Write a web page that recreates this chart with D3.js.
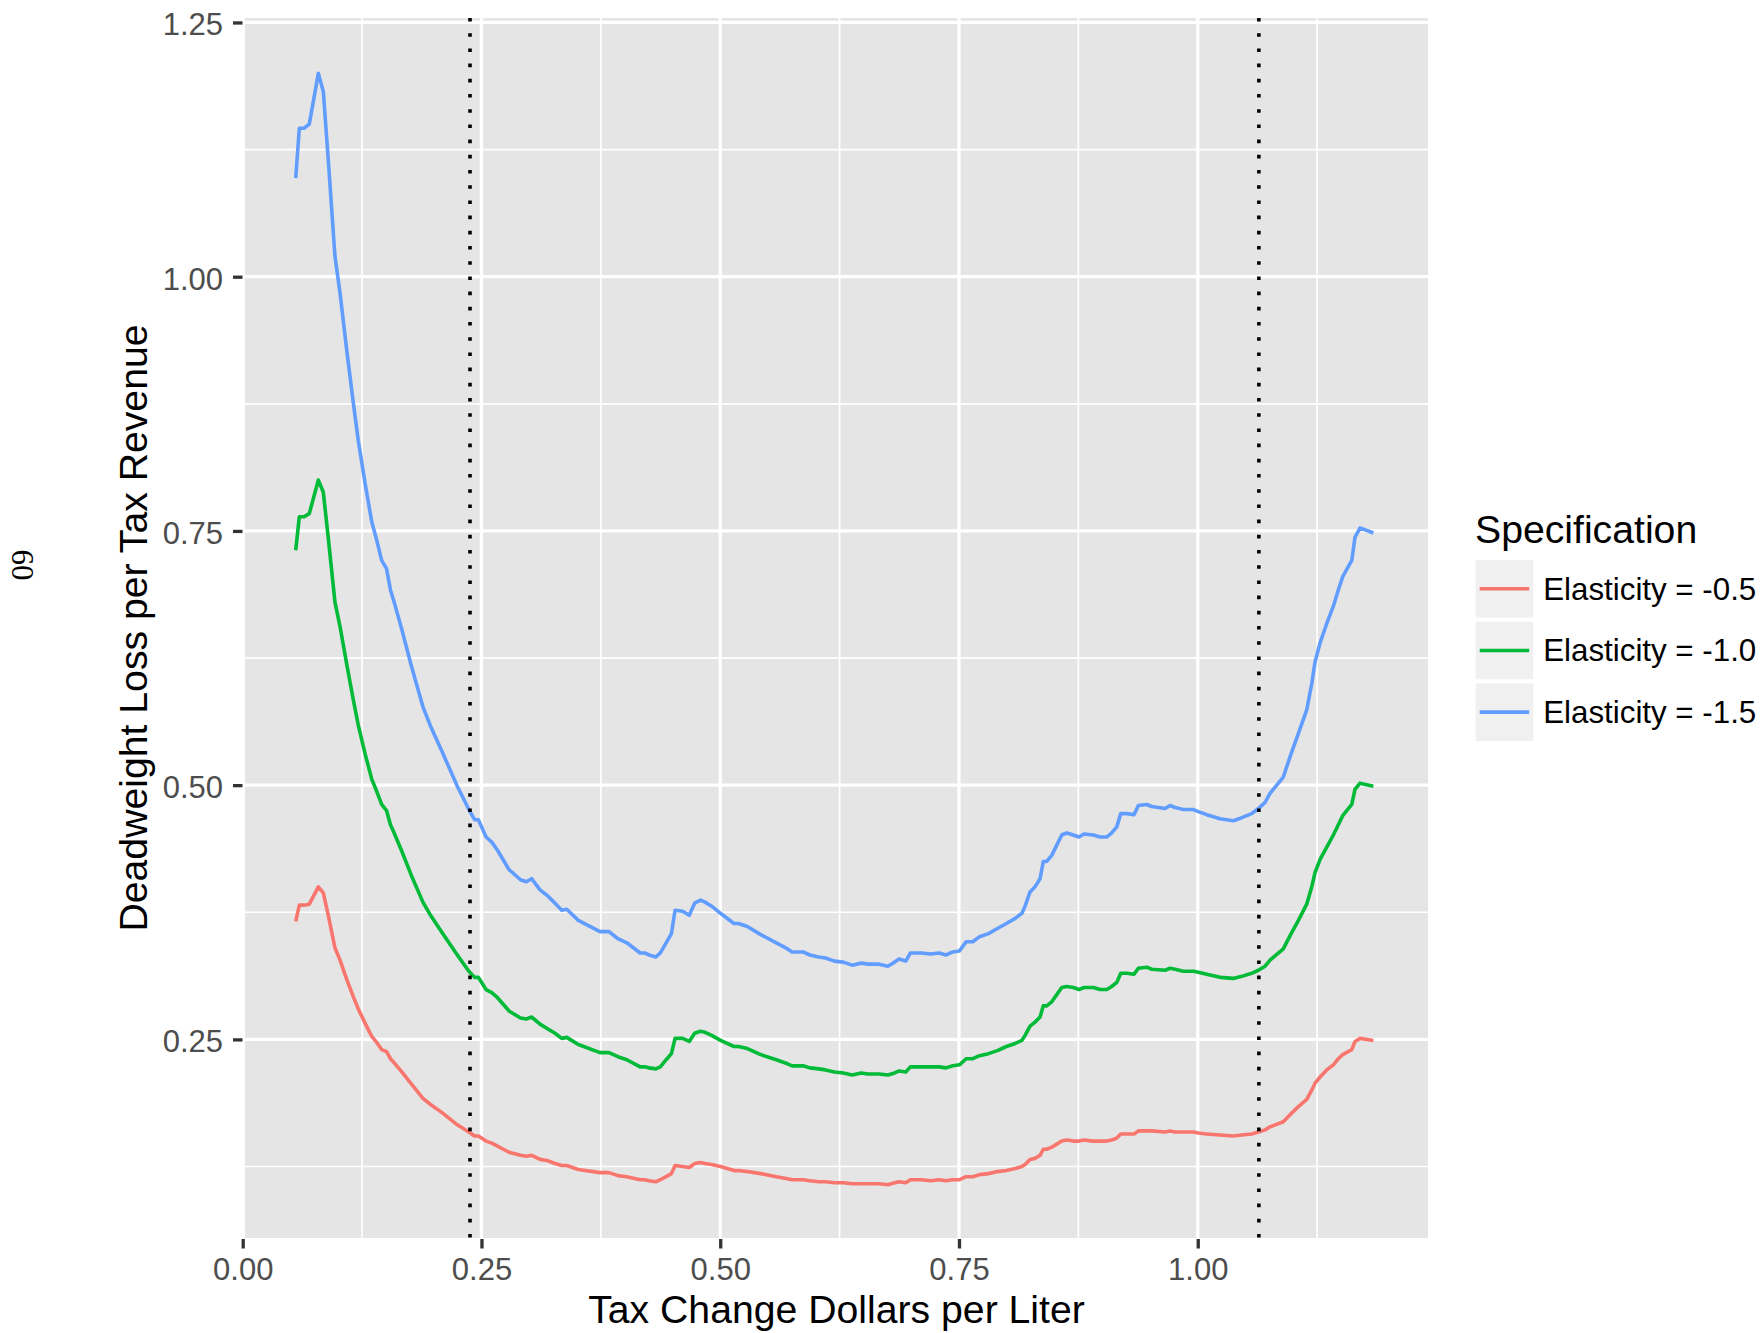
<!DOCTYPE html>
<html>
<head>
<meta charset="utf-8">
<script src="https://cdn.jsdelivr.net/npm/d3@7"></script>
<style>
  body { margin: 0; background: #ffffff; }
  svg { display: block; font-family: 'Liberation Sans', Arial, Helvetica, sans-serif; }
</style>
</head>
<body>
<svg id="chart" width="1762" height="1333"></svg>
<script>
// tax change (dollars per liter), shared by all three specifications
const taxChange = [
  0.0555, 0.0593, 0.0642, 0.0697, 0.0792, 0.0844, 0.0896, 0.0966, 0.1019, 0.1089,
  0.1158, 0.1210, 0.1281, 0.1351, 0.1403, 0.1455, 0.1506, 0.1547, 0.1586, 0.1666,
  0.1767, 0.1887, 0.1967, 0.2087, 0.2247, 0.2368, 0.2428, 0.2468, 0.2548, 0.2608,
  0.2668, 0.2788, 0.2909, 0.2969, 0.3026, 0.3113, 0.3183, 0.3270, 0.3340, 0.3393,
  0.3514, 0.3741, 0.3835, 0.3929, 0.4022, 0.4162, 0.4208, 0.4256, 0.4326, 0.4373,
  0.4434, 0.4489, 0.4527, 0.4606, 0.4676, 0.4732, 0.4793, 0.4841, 0.4910, 0.5003,
  0.5144, 0.5191, 0.5284, 0.5424, 0.5587, 0.5705, 0.5752, 0.5868, 0.5938, 0.6032,
  0.6102, 0.6196, 0.6289, 0.6382, 0.6476, 0.6547, 0.6663, 0.6756, 0.6826, 0.6873,
  0.6943, 0.6991, 0.7107, 0.7201, 0.7294, 0.7364, 0.7435, 0.7505, 0.7575, 0.7645,
  0.7715, 0.7808, 0.7902, 0.7996, 0.8089, 0.8159, 0.8192, 0.8244, 0.8296, 0.8349,
  0.8383, 0.8419, 0.8471, 0.8524, 0.8576, 0.8628, 0.8697, 0.8757, 0.8809, 0.8907,
  0.8977, 0.9047, 0.9099, 0.9152, 0.9194, 0.9257, 0.9333, 0.9378, 0.9466, 0.9518,
  0.9658, 0.9710, 0.9762, 0.9849, 0.9954, 1.0006, 1.0094, 1.0234, 1.0373, 1.0461,
  1.0565, 1.0635, 1.0705, 1.0757, 1.0896, 1.0967, 1.1054, 1.1141, 1.1194, 1.1228,
  1.1281, 1.1351, 1.1420, 1.1472, 1.1518, 1.1613, 1.1647, 1.1700, 1.1839
];

// deadweight loss per tax revenue, elasticity = -0.5
const dwlElasticity05 = [
  0.366, 0.382, 0.382, 0.383, 0.400, 0.394, 0.372, 0.340, 0.328, 0.309,
  0.292, 0.280, 0.266, 0.253, 0.247, 0.240, 0.238, 0.231, 0.227, 0.218,
  0.206, 0.192, 0.186, 0.178, 0.166, 0.159, 0.155, 0.155, 0.150, 0.148,
  0.145, 0.139, 0.136, 0.135, 0.136, 0.132, 0.131, 0.128, 0.126, 0.126,
  0.122, 0.119, 0.119, 0.116, 0.115, 0.112, 0.112, 0.111, 0.110, 0.112,
  0.115, 0.118, 0.126, 0.125, 0.124, 0.128, 0.129, 0.128, 0.127, 0.125,
  0.121, 0.121, 0.120, 0.118, 0.115, 0.113, 0.112, 0.112, 0.111, 0.110,
  0.110, 0.109, 0.109, 0.108, 0.108, 0.108, 0.108, 0.107, 0.109, 0.110,
  0.109, 0.112, 0.112, 0.111, 0.112, 0.111, 0.112, 0.112, 0.115, 0.115,
  0.117, 0.118, 0.120, 0.121, 0.123, 0.125, 0.127, 0.132, 0.133, 0.136,
  0.142, 0.142, 0.144, 0.147, 0.150, 0.151, 0.150, 0.150, 0.151, 0.150,
  0.150, 0.150, 0.151, 0.153, 0.157, 0.157, 0.157, 0.160, 0.160, 0.160,
  0.159, 0.160, 0.159, 0.159, 0.159, 0.158, 0.157, 0.156, 0.155, 0.156,
  0.157, 0.159, 0.161, 0.164, 0.169, 0.176, 0.184, 0.191, 0.200, 0.207,
  0.213, 0.220, 0.225, 0.231, 0.235, 0.240, 0.248, 0.251, 0.249
];

// elasticity = -1.0
const dwlElasticity10 = [
  0.731, 0.764, 0.764, 0.767, 0.800, 0.788, 0.743, 0.680, 0.656, 0.619,
  0.584, 0.559, 0.531, 0.506, 0.494, 0.481, 0.475, 0.461, 0.453, 0.435,
  0.411, 0.385, 0.372, 0.355, 0.333, 0.317, 0.311, 0.311, 0.299, 0.296,
  0.291, 0.278, 0.271, 0.270, 0.272, 0.265, 0.261, 0.256, 0.251, 0.252,
  0.245, 0.237, 0.237, 0.233, 0.230, 0.223, 0.223, 0.222, 0.221, 0.223,
  0.230, 0.236, 0.251, 0.251, 0.248, 0.256, 0.258, 0.257, 0.254, 0.249,
  0.243, 0.243, 0.241, 0.235, 0.230, 0.226, 0.224, 0.224, 0.222, 0.221,
  0.220, 0.218, 0.217, 0.215, 0.217, 0.216, 0.216, 0.215, 0.217, 0.219,
  0.218, 0.223, 0.223, 0.223, 0.223, 0.222, 0.224, 0.225, 0.231, 0.231,
  0.234, 0.236, 0.239, 0.243, 0.246, 0.249, 0.254, 0.263, 0.267, 0.272,
  0.283, 0.283, 0.287, 0.294, 0.301, 0.302, 0.301, 0.299, 0.301, 0.301,
  0.299, 0.299, 0.302, 0.306, 0.315, 0.315, 0.314, 0.320, 0.321, 0.319,
  0.318, 0.320, 0.319, 0.317, 0.317, 0.316, 0.314, 0.311, 0.310, 0.312,
  0.315, 0.318, 0.322, 0.328, 0.339, 0.352, 0.367, 0.383, 0.400, 0.414,
  0.427, 0.439, 0.451, 0.461, 0.470, 0.481, 0.496, 0.502, 0.499
];

// elasticity = -1.5
const dwlElasticity15 = [
  1.097, 1.146, 1.146, 1.150, 1.200, 1.182, 1.115, 1.020, 0.984, 0.928,
  0.876, 0.839, 0.797, 0.759, 0.741, 0.721, 0.713, 0.692, 0.680, 0.653,
  0.617, 0.577, 0.558, 0.533, 0.499, 0.476, 0.466, 0.466, 0.449, 0.444,
  0.436, 0.417, 0.407, 0.405, 0.408, 0.397, 0.392, 0.384, 0.377, 0.378,
  0.367, 0.356, 0.356, 0.349, 0.345, 0.335, 0.335, 0.333, 0.331, 0.335,
  0.345, 0.354, 0.377, 0.376, 0.372, 0.384, 0.387, 0.385, 0.381, 0.374,
  0.364, 0.364, 0.361, 0.353, 0.345, 0.339, 0.336, 0.336, 0.333, 0.331,
  0.330, 0.327, 0.326, 0.323, 0.325, 0.324, 0.324, 0.322, 0.326, 0.329,
  0.327, 0.335, 0.335, 0.334, 0.335, 0.333, 0.336, 0.337, 0.346, 0.346,
  0.351, 0.354, 0.359, 0.364, 0.369, 0.374, 0.381, 0.395, 0.400, 0.408,
  0.425, 0.425, 0.431, 0.441, 0.451, 0.453, 0.451, 0.449, 0.452, 0.451,
  0.449, 0.449, 0.453, 0.459, 0.472, 0.472, 0.471, 0.480, 0.481, 0.479,
  0.477, 0.480, 0.478, 0.476, 0.476, 0.474, 0.471, 0.467, 0.465, 0.468,
  0.472, 0.477, 0.483, 0.492, 0.508, 0.528, 0.551, 0.574, 0.600, 0.621,
  0.640, 0.659, 0.676, 0.692, 0.705, 0.721, 0.744, 0.753, 0.748
];

const specLabels = ['Elasticity = -0.5', 'Elasticity = -1.0', 'Elasticity = -1.5'];
const cutoffLines = [0.238, 1.064];

const xMajorTicks = [0, 0.25, 0.5, 0.75, 1.0];
const xMinorTicks = [0.125, 0.375, 0.625, 0.875, 1.125];
const yMajorTicks = [0.25, 0.5, 0.75, 1.0, 1.25];
const yMinorTicks = [0.125, 0.375, 0.625, 0.875, 1.125];

const colors = ['#F8766D', '#00BA38', '#619CFF'];
const tickFontSize = 31;
const legendFontSize = 31.3;
const titleFontSize = 39.2;
const majorWidth = 3.3;
const lineWidth = 3.6;

const svg = d3.select('#chart');
svg.append('rect').attr('width', 1762).attr('height', 1333).attr('fill', '#ffffff');

const panel = { left: 245, right: 1428, top: 18, bottom: 1238 };

const x = d3.scaleLinear().domain([0.0024, 1.2411]).range([panel.left, panel.right]);
const y = d3.scaleLinear().domain([0.0547, 1.2544]).range([panel.bottom, panel.top]);

const series = specLabels.map((label, i) => ({
  label: label,
  color: colors[i],
  values: [dwlElasticity05, dwlElasticity10, dwlElasticity15][i]
}));

svg.append('defs')
  .append('clipPath')
  .attr('id', 'panel-clip')
  .append('rect')
  .attr('x', panel.left)
  .attr('y', panel.top)
  .attr('width', panel.right - panel.left)
  .attr('height', panel.bottom - panel.top);

// panel background
svg.append('rect')
  .attr('x', panel.left)
  .attr('y', panel.top)
  .attr('width', panel.right - panel.left)
  .attr('height', panel.bottom - panel.top)
  .attr('fill', '#E5E5E5');

const inX = (v) => v >= x.domain()[0] && v <= x.domain()[1];
const inY = (v) => v >= y.domain()[0] && v <= y.domain()[1];

const grid = svg.append('g').attr('class', 'grid').attr('stroke', '#ffffff');

// minor grid first, majors on top
grid.selectAll('line.xminor')
  .data(xMinorTicks.filter(inX))
  .join('line')
  .attr('class', 'xminor')
  .attr('x1', (d) => x(d)).attr('x2', (d) => x(d))
  .attr('y1', panel.top).attr('y2', panel.bottom)
  .attr('stroke-width', majorWidth / 2);

grid.selectAll('line.yminor')
  .data(yMinorTicks.filter(inY))
  .join('line')
  .attr('class', 'yminor')
  .attr('x1', panel.left).attr('x2', panel.right)
  .attr('y1', (d) => y(d)).attr('y2', (d) => y(d))
  .attr('stroke-width', majorWidth / 2);

grid.selectAll('line.xmajor')
  .data(xMajorTicks.filter(inX))
  .join('line')
  .attr('class', 'xmajor')
  .attr('x1', (d) => x(d)).attr('x2', (d) => x(d))
  .attr('y1', panel.top).attr('y2', panel.bottom)
  .attr('stroke-width', majorWidth);

grid.selectAll('line.ymajor')
  .data(yMajorTicks.filter(inY))
  .join('line')
  .attr('class', 'ymajor')
  .attr('x1', panel.left).attr('x2', panel.right)
  .attr('y1', (d) => y(d)).attr('y2', (d) => y(d))
  .attr('stroke-width', majorWidth);

// curves
const line = d3.line()
  .x((d) => x(d[0]))
  .y((d) => y(d[1]));

svg.append('g')
  .attr('class', 'lines')
  .attr('clip-path', 'url(#panel-clip)')
  .selectAll('path')
  .data(series)
  .join('path')
  .attr('d', (s) => line(taxChange.map((t, i) => [t, s.values[i]])))
  .attr('fill', 'none')
  .attr('stroke', (s) => s.color)
  .attr('stroke-width', lineWidth)
  .attr('stroke-linejoin', 'round');

// dotted cutoffs
svg.append('g')
  .attr('class', 'cutoffs')
  .selectAll('line')
  .data(cutoffLines)
  .join('line')
  .attr('x1', (d) => x(d)).attr('x2', (d) => x(d))
  .attr('y1', panel.top).attr('y2', panel.bottom)
  .attr('stroke', '#000000')
  .attr('stroke-width', 3.6)
  .attr('stroke-dasharray', '3.6 11.6');

// axes
const xAxis = svg.append('g')
  .attr('transform', `translate(0,${panel.bottom + 1})`)
  .call(d3.axisBottom(x)
    .tickValues(xMajorTicks)
    .tickFormat(d3.format('.2f'))
    .tickSize(9.5)
    .tickPadding(9.6));

const yAxis = svg.append('g')
  .attr('transform', `translate(${panel.left - 2.5},0)`)
  .call(d3.axisLeft(y)
    .tickValues(yMajorTicks)
    .tickFormat(d3.format('.2f'))
    .tickSize(9.5)
    .tickPadding(10));

[xAxis, yAxis].forEach((ax) => {
  ax.select('.domain').remove();
  ax.selectAll('.tick line').attr('stroke', '#333333').attr('stroke-width', majorWidth);
  ax.selectAll('.tick text')
    .attr('fill', '#4D4D4D')
    .attr('font-size', tickFontSize)
    .attr('font-family', "'Liberation Sans', Arial, sans-serif");
});
yAxis.selectAll('.tick text').attr('dy', '0.4em');

// axis titles
svg.append('text')
  .attr('x', (panel.left + panel.right) / 2)
  .attr('y', 1323)
  .attr('text-anchor', 'middle')
  .attr('font-size', titleFontSize)
  .attr('fill', '#000000')
  .text('Tax Change Dollars per Liter');

svg.append('text')
  .attr('transform', `translate(147,${(panel.top + panel.bottom) / 2}) rotate(-90)`)
  .attr('text-anchor', 'middle')
  .attr('font-size', titleFontSize)
  .attr('fill', '#000000')
  .text('Deadweight Loss per Tax Revenue');

// page number left on the scanned page
svg.append('text')
  .attr('transform', 'translate(22,565) rotate(90)')
  .attr('text-anchor', 'middle')
  .attr('dominant-baseline', 'central')
  .attr('font-family', "'Liberation Serif', 'DejaVu Serif', serif")
  .attr('font-size', 31)
  .attr('fill', '#000000')
  .text('60');

// legend
const legend = svg.append('g').attr('class', 'legend');
const keySize = 57.5;
const keyStep = 61.7;
const keyX = 1475.7;
const keyY = 560;

legend.append('text')
  .attr('x', 1475)
  .attr('y', 543)
  .attr('font-size', titleFontSize)
  .attr('fill', '#000000')
  .text('Specification');

const item = legend.selectAll('g.item')
  .data(series)
  .join('g')
  .attr('class', 'item')
  .attr('transform', (d, i) => `translate(${keyX},${keyY + i * keyStep})`);

item.append('rect')
  .attr('width', keySize)
  .attr('height', keySize)
  .attr('fill', '#F0F0F0');

item.append('line')
  .attr('x1', 4).attr('x2', keySize - 4)
  .attr('y1', keySize / 2).attr('y2', keySize / 2)
  .attr('stroke', (d) => d.color)
  .attr('stroke-width', lineWidth);

item.append('text')
  .attr('x', keySize + 10)
  .attr('y', keySize / 2 + 11)
  .attr('font-size', legendFontSize)
  .attr('fill', '#000000')
  .text((d) => d.label);
</script>
</body>
</html>
